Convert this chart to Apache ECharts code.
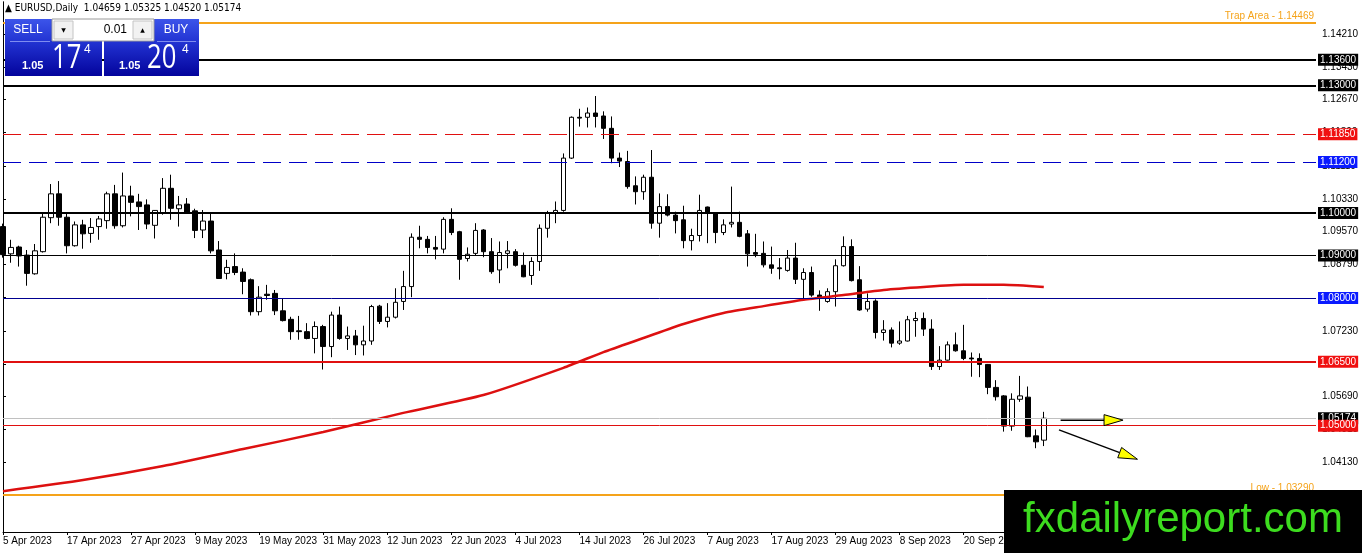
<!DOCTYPE html>
<html><head><meta charset="utf-8">
<script src="https://cdn.jsdelivr.net/npm/echarts/dist/echarts.min.js"></script>
<style>html,body{margin:0;padding:0;background:#fff}#c{width:1362px;height:553px}</style>
</head><body><div id="c"></div>
<script>
// ---------- DATA ----------
const symbolName = 'EURUSD,Daily';
const dateLabels = ['5 Apr 2023','17 Apr 2023','27 Apr 2023','9 May 2023','19 May 2023','31 May 2023','12 Jun 2023','22 Jun 2023','4 Jul 2023','14 Jul 2023','26 Jul 2023','7 Aug 2023','17 Aug 2023','29 Aug 2023','8 Sep 2023','20 Sep 2023','2 Oct 2023'];
const openP = [1.0968,1.0904,1.0920,1.0901,1.0857,1.0909,1.0989,1.1045,1.0990,1.0923,1.0972,1.0952,1.0968,1.0982,1.1045,1.0970,1.1040,1.1026,1.1019,1.0971,
1.1000,1.1058,1.1010,1.1021,1.1005,1.0960,1.0981,1.0913,1.0858,1.0874,1.0861,1.0843,1.0768,1.0809,1.0811,1.0770,1.0750,1.0723,1.0721,1.0705,
1.0733,1.0686,1.0760,1.0705,1.0711,1.0690,1.0699,1.0781,1.0745,1.0755,1.0792,1.0827,1.0943,1.0938,1.0919,1.0915,1.0985,1.0956,1.0893,1.0905,
1.0960,1.0909,1.0866,1.0905,1.0909,1.0877,1.0853,1.0886,1.0964,1.1001,1.1006,1.1129,1.1225,1.1225,1.1235,1.1228,1.1199,1.1129,1.1121,1.1064,
1.1050,1.1084,1.0976,1.1015,1.0995,1.0984,1.0935,1.0947,1.1014,1.1000,1.0954,1.0974,1.0978,1.0951,1.0907,1.0905,1.0878,1.0871,1.0865,1.0894,
1.0844,1.0860,1.0807,1.0792,1.0815,1.0876,1.0921,1.0843,1.0774,1.0793,1.0719,1.0725,1.0694,1.0699,1.0747,1.0752,1.0727,1.0639,1.0654,1.0690,
1.0676,1.0659,1.0658,1.0644,1.0590,1.0570,1.0499,1.0562,1.0567,1.0476,1.04659];
const highP = [1.0975,1.0937,1.0923,1.0913,1.0927,1.0999,1.1068,1.1075,1.0999,1.0980,1.0984,1.0988,1.0993,1.1050,1.1066,1.1095,1.1064,1.1045,1.1032,1.1007,
1.1082,1.1090,1.1040,1.1035,1.1010,1.1007,1.1000,1.0934,1.0890,1.0905,1.0870,1.0846,1.0828,1.0831,1.0819,1.0800,1.0756,1.0758,1.0741,1.0745,
1.0737,1.0768,1.0780,1.0733,1.0725,1.0735,1.0784,1.0784,1.0788,1.0823,1.0864,1.0952,1.0970,1.0946,1.0946,1.0990,1.1011,1.0958,1.0919,1.0976,
1.0962,1.0941,1.0933,1.0934,1.0915,1.0907,1.0896,1.0973,1.1005,1.1027,1.1140,1.1227,1.1245,1.1248,1.1275,1.1239,1.1227,1.1142,1.1146,1.1086,
1.1090,1.1148,1.1046,1.1044,1.1003,1.1017,1.0963,1.1043,1.1015,1.1002,1.0985,1.1062,1.1003,1.0960,1.0951,1.0933,1.0921,1.0894,1.0913,1.0930,
1.0870,1.0874,1.0818,1.0823,1.0891,1.0945,1.0938,1.0875,1.0811,1.0797,1.0748,1.0731,1.0745,1.0758,1.0767,1.0766,1.0750,1.0687,1.0698,1.0719,
1.0737,1.0672,1.0670,1.0645,1.0607,1.0572,1.0576,1.0617,1.0592,1.0491,1.05325];
const lowP = [1.0895,1.0883,1.0874,1.0829,1.0855,1.0907,1.0976,1.0970,1.0905,1.0921,1.0916,1.0930,1.0937,1.0963,1.0963,1.0966,1.0992,1.0960,1.0962,1.0940,
1.0996,1.0984,1.0968,1.0999,1.0941,1.0941,1.0905,1.0845,1.0844,1.0854,1.0809,1.0759,1.0759,1.0796,1.0760,1.0745,1.0702,1.0702,1.0703,1.0670,
1.0632,1.0661,1.0702,1.0678,1.0666,1.0665,1.0690,1.0739,1.0731,1.0752,1.0772,1.0802,1.0917,1.0905,1.0891,1.0905,1.0948,1.0843,1.0886,1.0901,
1.0896,1.0857,1.0835,1.0870,1.0874,1.0849,1.0831,1.0864,1.0942,1.0976,1.1003,1.1127,1.1203,1.1201,1.1201,1.1174,1.1117,1.1108,1.1057,1.1020,
1.1031,1.0963,1.0942,1.0992,1.0952,1.0917,1.0912,1.0933,1.0929,1.0929,1.0948,1.0966,1.0943,1.0874,1.0896,1.0872,1.0857,1.0844,1.0862,1.0833,
1.0800,1.0803,1.0770,1.0789,1.0780,1.0874,1.0839,1.0770,1.0768,1.0705,1.0700,1.0684,1.0690,1.0698,1.0709,1.0711,1.0631,1.0631,1.0653,1.0674,
1.0654,1.0615,1.0614,1.0574,1.0559,1.0486,1.0488,1.0556,1.0473,1.0447,1.04520];
const closeP = [1.0902,1.0919,1.0899,1.0858,1.0911,1.0990,1.1045,1.0990,1.0923,1.0972,1.0951,1.0966,1.0986,1.1045,1.0970,1.1040,1.1025,1.1015,1.0974,1.1006,
1.1058,1.1011,1.1019,1.1001,1.0959,1.0981,1.0911,1.0846,1.0872,1.0860,1.0839,1.0768,1.0802,1.0806,1.0770,1.0747,1.0721,1.0721,1.0705,1.0733,
1.0686,1.0760,1.0705,1.0711,1.0690,1.0699,1.0780,1.0745,1.0755,1.0790,1.0827,1.0943,1.0938,1.0919,1.0915,1.0985,1.0954,1.0891,1.0903,1.0959,
1.0909,1.0862,1.0907,1.0911,1.0877,1.0850,1.0886,1.0964,1.1001,1.1006,1.1129,1.1225,1.1223,1.1235,1.1227,1.1199,1.1129,1.1122,1.1062,1.1050,
1.1084,1.0976,1.1015,1.0995,1.0982,1.0935,1.0947,1.1006,1.1001,1.0954,1.0972,1.0978,1.0945,1.0904,1.0903,1.0878,1.0870,1.0869,1.0894,1.0844,
1.0860,1.0807,1.0802,1.0815,1.0876,1.0921,1.0841,1.0772,1.0792,1.0719,1.0725,1.0694,1.0699,1.0749,1.0752,1.0727,1.0639,1.0654,1.0690,1.0676,
1.0658,1.0657,1.0644,1.0590,1.0568,1.0499,1.0562,1.0570,1.0474,1.0462,1.05174];
// moving average, read at sample bars: [bar index, price]
const maPoints = [[0,1.0346],[10,1.0372],[20,1.0405],[30,1.0445],[40,1.0485],[50,1.0530],[60,1.0572],[70,1.0636],[75,1.0673],[80,1.0706],[85,1.0739],[90,1.0765],[95,1.0781],[100,1.0796],[105,1.0807],[110,1.0819],[115,1.0826],[120,1.0831],[125,1.0831],[130,1.0826]];
const levelPrices = [1.13600,1.13000,1.11850,1.11200,1.10000,1.09000,1.08000,1.06500,1.05000];
const trapLevel = 1.14469;
const lowLevelText = 1.03290;
const lowLevelDrawn = 1.0337;
const tickValues = [1.14210,1.13430,1.12670,1.11890,1.11110,1.10330,1.09570,1.08790,1.08010,1.07230,1.06450,1.05690,1.04910,1.04130];
const arrowFrom = [[132.1,1.0513],[131.9,1.0490]];
const arrowTo = [[139.9,1.0513],[141.7,1.0421]];
const bidInt = '1.05', bidPips = '17', bidFrac = '4';
const askInt = '1.05', askPips = '20', askFrac = '4';
const lotSize = '0.01';

// ---------- LAYOUT ----------
const totalSlots = 165;
const yMin = 1.0250, yMax = 1.1496;
const FONT = 'Liberation Sans';
const last = closeP.length - 1;
const cats = Array.from({length: totalSlots}, (_, i) => String(i));
const candleData = openP.map((o, i) => [o, closeP[i], lowP[i], highP[i]]);

const styleFor = {
  1.136: {c:'#000', w:2, t:'solid', box:'#000'},
  1.13: {c:'#000', w:2, t:'solid', box:'#000'},
  1.1185: {c:'#e01010', w:1, t:[18,8], box:'#f01010'},
  1.112: {c:'#0000c8', w:1, t:[18,8], box:'#0a1aff'},
  1.1: {c:'#000', w:2, t:'solid', box:'#000'},
  1.09: {c:'#000', w:1, t:'solid', box:'#000'},
  1.08: {c:'#000090', w:1, t:'solid', box:'#0a1aff'},
  1.065: {c:'#e01010', w:2, t:'solid', box:'#f01010'},
  1.05: {c:'#e01010', w:1, t:'solid', box:'#f01010'}
};
function boxLabel(v, bg) {
  return {show:true, position:'end', distance:2, formatter: v.toFixed(5), backgroundColor:bg,
    color:'#fff', padding:[1,2,0,2], fontSize:10, fontFamily:FONT, lineHeight:11};
}
const lineData = [];
lineData.push({yAxis: trapLevel, lineStyle:{color:'#f5a31a', width:2, type:'solid'},
  label:{show:true, position:'insideEndTop', distance:2, formatter:'Trap Area - ' + trapLevel.toFixed(5), color:'#f5a31a', fontSize:10, fontFamily:FONT}});
lineData.push({yAxis: lowLevelDrawn, lineStyle:{color:'#f5a31a', width:2, type:'solid'},
  label:{show:true, position:'insideEndTop', distance:2, formatter:'Low - ' + lowLevelText.toFixed(5), color:'#f5a31a', fontSize:10, fontFamily:FONT}});
lineData.push({yAxis: closeP[last], lineStyle:{color:'#c0c0c0', width:1, type:'solid'}, label: boxLabel(closeP[last], '#000')});
levelPrices.forEach(v => {
  const s = styleFor[v];
  lineData.push({yAxis: v, lineStyle:{color:s.c, width:s.w, type:s.t}, label: boxLabel(v, s.box)});
});

const panelGrad = {type:'linear', x:0, y:0, x2:0, y2:1, colorStops:[
  {offset:0, color:'#3c55ea'},{offset:0.4, color:'#2233d2'},{offset:1, color:'#03039c'}]};
const fmt5 = v => v.toFixed(5);
const headerText = '\u25B2 ' + symbolName + '  ' + [openP[last], highP[last], lowP[last], closeP[last]].map(fmt5).join(' ');

const chart = echarts.init(document.getElementById('c'), null, {renderer:'canvas'});
chart.setOption({
  animation:false,
  backgroundColor:'#fff',
  grid:{left:3, right:46, top:2, bottom:21, containLabel:false},
  xAxis:[{
    type:'category', data:cats, boundaryGap:false,
    axisLine:{show:true, lineStyle:{color:'#000', width:1}},
    axisTick:{show:true, interval:7, length:3, lineStyle:{color:'#000'}},
    axisLabel:{interval:7, align:'left', margin:4, fontSize:10, fontFamily:FONT, color:'#000',
      formatter:(v, i) => { const k = Number(v); return (k % 8 === 0 && k / 8 < dateLabels.length && k <= last) ? dateLabels[k / 8] : ''; }},
    splitLine:{show:false}
  },{
    type:'value', min:0, max:totalSlots - 1, show:false
  }],
  yAxis:[{
    type:'value', position:'right', min:yMin, max:yMax,
    axisLine:{show:true, lineStyle:{color:'#000', width:1}},
    axisTick:{show:true, length:3, customValues:tickValues, lineStyle:{color:'#000'}},
    axisLabel:{customValues:tickValues, formatter:fmt5, margin:6, fontSize:10, fontFamily:FONT, color:'#000'},
    splitLine:{show:false}
  },{
    type:'value', position:'left', min:yMin, max:yMax,
    axisLine:{show:true, lineStyle:{color:'#000', width:1}},
    axisTick:{show:false}, axisLabel:{show:false}, splitLine:{show:false}
  }],
  series:[{
    type:'candlestick', xAxisIndex:0, yAxisIndex:0, data:candleData, barWidth:5, z:2,
    itemStyle:{color:'#ffffff', color0:'#000000', borderColor:'#000000', borderColor0:'#000000', borderWidth:1},
    emphasis:{disabled:true}
  },{
    type:'line', xAxisIndex:1, yAxisIndex:0, data:maPoints, showSymbol:false, smooth:0.2, clip:false, z:4,
    lineStyle:{color:'#dd1010', width:2.5},
    markLine:{symbol:'none', silent:true, animation:false, precision:6, data:lineData}
  },{
    type:'custom', xAxisIndex:1, yAxisIndex:0, z:6, clip:false,
    data: arrowFrom.map((p, i) => [p[0], p[1], arrowTo[i][0], arrowTo[i][1]]),
    encode:{x:[0,2], y:[1,3]},
    renderItem:(params, api) => {
      const a = api.coord([api.value(0), api.value(1)]);
      const b = api.coord([api.value(2), api.value(3)]);
      const dx = b[0]-a[0], dy = b[1]-a[1], L = Math.hypot(dx, dy);
      const ux = dx/L, uy = dy/L, px = -uy, py = ux;
      const hl = 19, hw = 5.5;
      const bx = b[0]-ux*hl, by = b[1]-uy*hl;
      return {type:'group', children:[
        {type:'line', shape:{x1:a[0], y1:a[1], x2:bx, y2:by}, style:{stroke:'#000', lineWidth:1.5}},
        {type:'polygon', shape:{points:[[b[0],b[1]],[bx+px*hw, by+py*hw],[bx-px*hw, by-py*hw]]}, style:{fill:'#ffff00', stroke:'#000', lineWidth:1}}
      ]};
    }
  }],
  graphic:[
    {type:'text', left:5, top:3, z:100, style:{text:headerText, fontSize:10, fontFamily:'DejaVu Sans Condensed, ' + FONT, fill:'#000'}},
    {type:'rect', z:100, shape:{x:5, y:19, width:97, height:57}, style:{fill:panelGrad}},
    {type:'rect', z:100, shape:{x:104, y:19, width:95, height:57}, style:{fill:panelGrad}},
    {type:'rect', z:101, shape:{x:52, y:19, width:102, height:22}, style:{fill:'#fff', stroke:'#9a9a9a', lineWidth:1}},
    {type:'rect', z:102, shape:{x:54, y:21, width:19, height:18}, style:{fill:'#f2f2f2', stroke:'#c4c4c4', lineWidth:1}},
    {type:'rect', z:102, shape:{x:133, y:21, width:19, height:18}, style:{fill:'#f2f2f2', stroke:'#c4c4c4', lineWidth:1}},
    {type:'text', z:103, x:63.5, y:30, style:{text:'\u25BC', fontSize:6, fontFamily:'DejaVu Sans', fill:'#000', align:'center', verticalAlign:'middle'}},
    {type:'text', z:103, x:142.5, y:30, style:{text:'\u25B2', fontSize:6, fontFamily:'DejaVu Sans', fill:'#000', align:'center', verticalAlign:'middle'}},
    {type:'text', z:103, x:127, y:30, style:{text:lotSize, fontSize:12, fontFamily:FONT, fill:'#000', align:'right', verticalAlign:'middle'}},
    {type:'text', z:103, x:28, y:30, style:{text:'SELL', fontSize:12, fontFamily:FONT, fill:'#fff', align:'center', verticalAlign:'middle'}},
    {type:'text', z:103, x:176, y:30, style:{text:'BUY', fontSize:12, fontFamily:FONT, fill:'#fff', align:'center', verticalAlign:'middle'}},
    {type:'line', z:103, shape:{x1:10, y1:41.5, x2:50, y2:41.5}, style:{stroke:'#7f8cf0', lineWidth:1}},
    {type:'line', z:103, shape:{x1:157, y1:41.5, x2:196, y2:41.5}, style:{stroke:'#7f8cf0', lineWidth:1}},
    {type:'text', z:103, x:22, y:66, style:{text:bidInt, fontSize:11, fontWeight:'bold', fontFamily:FONT, fill:'#fff', verticalAlign:'middle'}},
    {type:'text', z:103, x:52, y:59, scaleX:0.8, originX:0, originY:0, style:{text:bidPips, fontSize:32, fontFamily:'Open Sans', fill:'#fff', verticalAlign:'middle'}},
    {type:'text', z:103, x:84, y:50, style:{text:bidFrac, fontSize:12, fontFamily:FONT, fill:'#fff', verticalAlign:'middle'}},
    {type:'text', z:103, x:119, y:66, style:{text:askInt, fontSize:11, fontWeight:'bold', fontFamily:FONT, fill:'#fff', verticalAlign:'middle'}},
    {type:'text', z:103, x:147, y:59, scaleX:0.8, originX:0, originY:0, style:{text:askPips, fontSize:32, fontFamily:'Open Sans', fill:'#fff', verticalAlign:'middle'}},
    {type:'text', z:103, x:182, y:50, style:{text:askFrac, fontSize:12, fontFamily:FONT, fill:'#fff', verticalAlign:'middle'}},
    {type:'rect', z:110, shape:{x:1004, y:490, width:358, height:63}, style:{fill:'#000'}},
    {type:'text', z:111, x:1183, y:520, style:{text:'fxdailyreport.com', fontSize:42, fontFamily:FONT, fill:'#3ddc1f', align:'center', verticalAlign:'middle'}}
  ]
});
</script></body></html>
